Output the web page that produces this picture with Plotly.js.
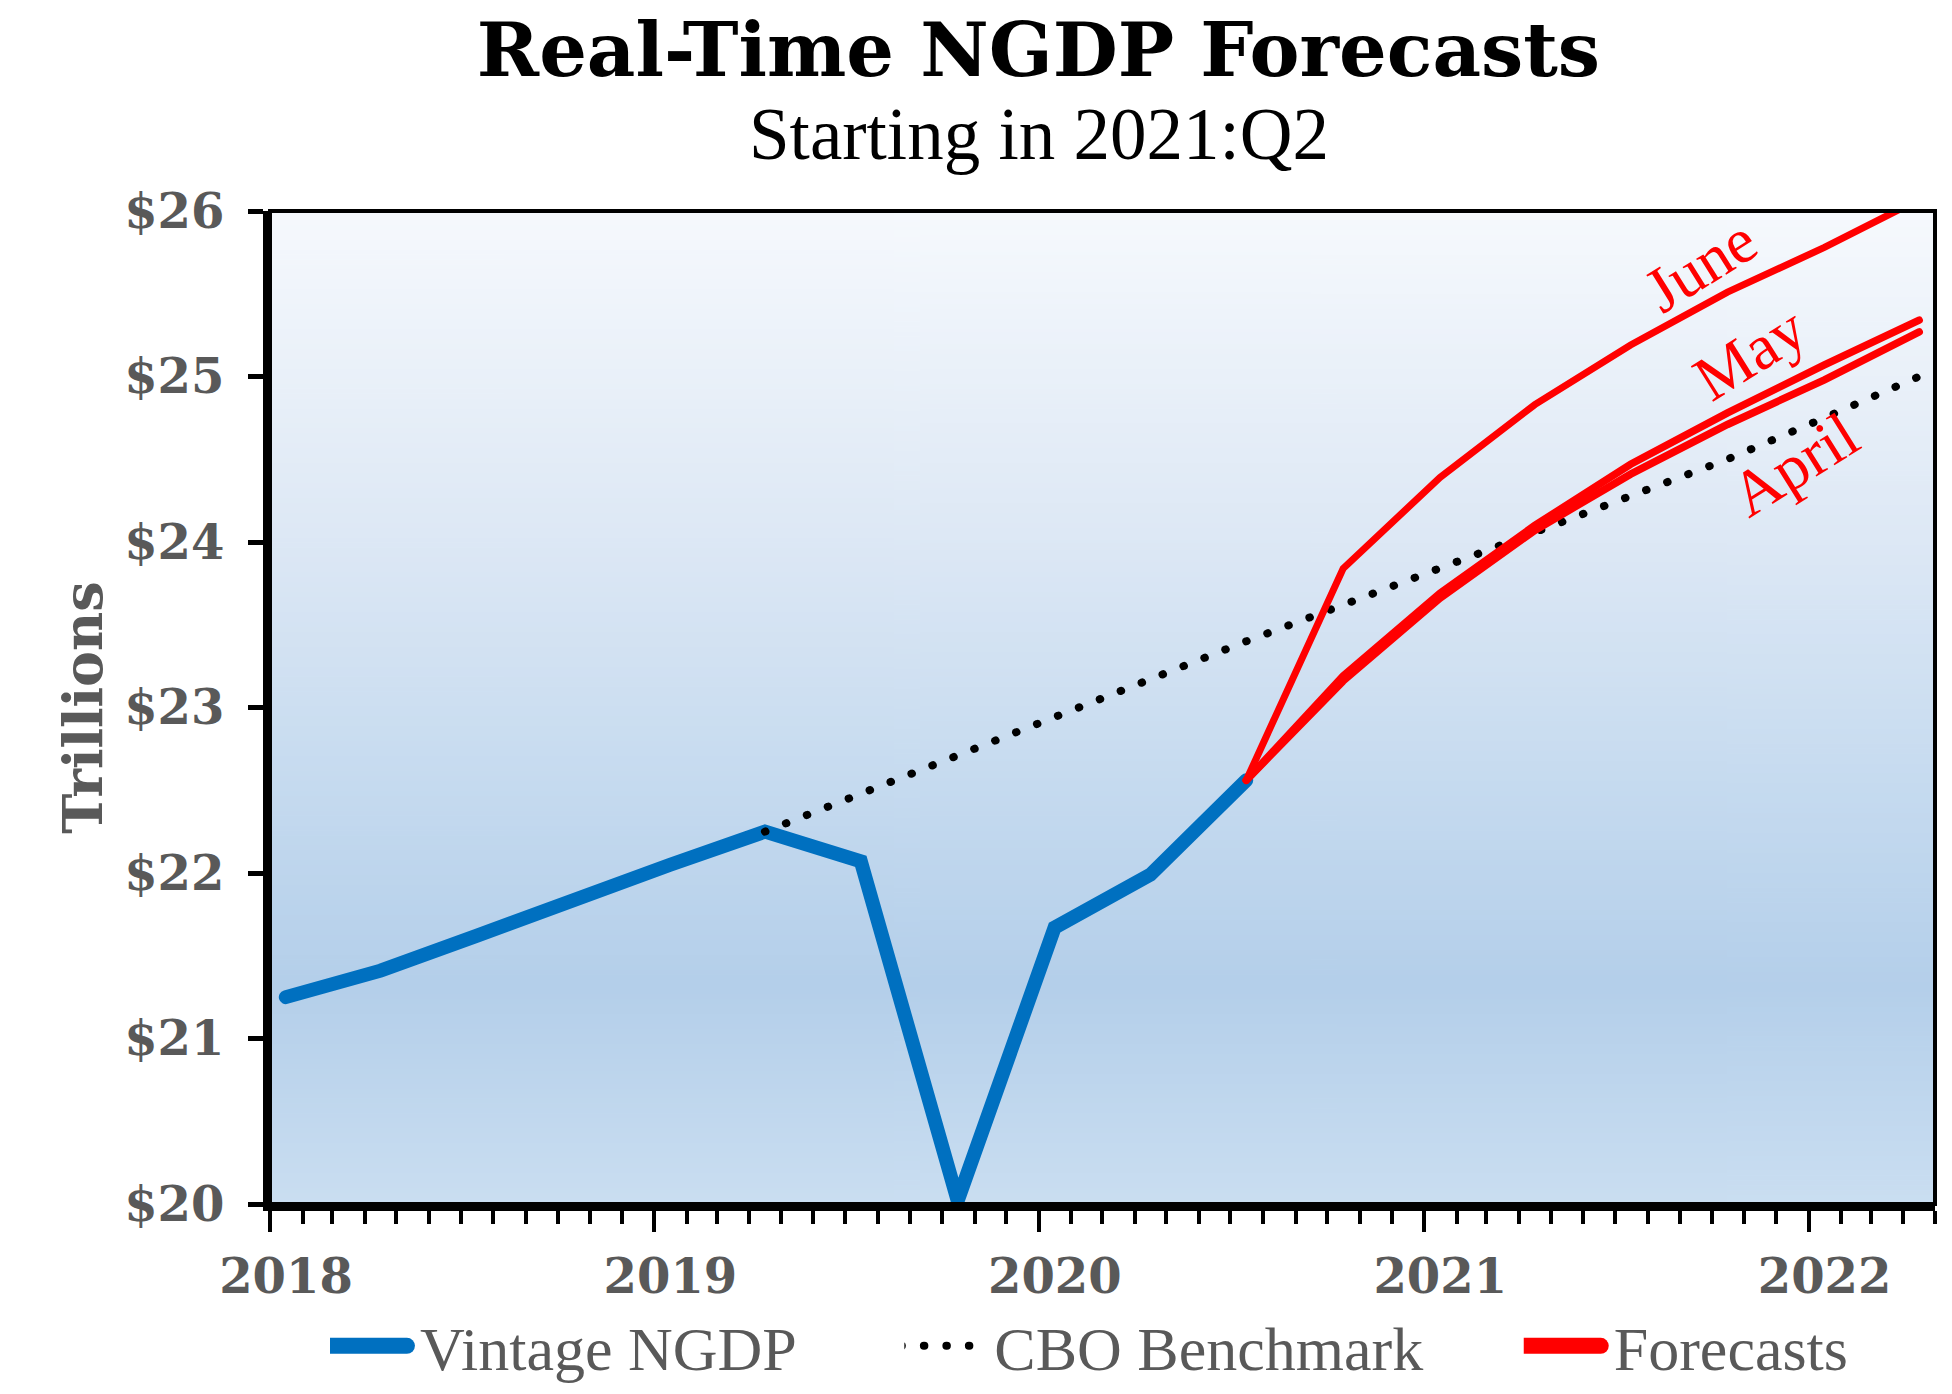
<!DOCTYPE html>
<html>
<head>
<meta charset="utf-8">
<script src="https://cdn.plot.ly/plotly-3.0.1.min.js"></script>
<style>
  html, body { margin:0; padding:0; background:#fff; }
  #chart { width:1952px; height:1394px; }
  #chart path.js-line { stroke-linecap:round; }
</style>
</head>
<body>
<div id="chart"></div>
<script>
/* ============================================================
   Real-Time NGDP Forecasts – vintage vs CBO vs monthly forecasts
   ============================================================ */

// quarterly observations, plotted mid-month on a monthly date axis
const quarters = [
  '2018-01-16','2018-04-16','2018-07-16','2018-10-16',
  '2019-01-16','2019-04-16','2019-07-16','2019-10-16',
  '2020-01-16','2020-04-16','2020-07-16','2020-10-16',
  '2021-01-16','2021-04-16','2021-07-16','2021-10-16',
  '2022-01-16','2022-04-16'
];

// $ trillions
const vintage = [21.25, 21.41, 21.62, 21.84, 22.05, 22.25, 22.07, 20.02, 21.67, 21.99, 22.56];
const cbo     = [22.25, 22.48, 22.71, 22.94, 23.17, 23.40, 23.62, 23.84, 24.06, 24.28, 24.50, 24.75, 25.00];
const fcJune  = [22.56, 23.84, 24.39, 24.83, 25.19, 25.51, 25.78, 26.07];
const fcMay   = [22.56, 23.19, 23.69, 24.10, 24.47, 24.78, 25.07, 25.34];
const fcApril = [22.56, 23.16, 23.66, 24.07, 24.41, 24.71, 24.98, 25.27];

const vintageX  = quarters.slice(0, vintage.length);
const cboX      = quarters.slice(5, 5 + cbo.length);
const forecastX = quarters.slice(10);

// forecast vintage labels (text, x date, y value)
const fcLabels = ['June', 'May', 'April'];
const fcLabelX = ['2021-09-20', '2021-11-06', '2021-12-19'];
const fcLabelY = [25.67, 25.14, 24.47];

const C = { blue:'#0070c0', red:'#ff0000', grey:'#595959', black:'#000000' };
const serifBold = { family:'DejaVu Serif', weight:'bold', color:C.grey };
const serif     = 'Liberation Serif';

// ── plot background gradient (Excel style fill) ──────────────
const cv = document.createElement('canvas');
cv.width = 4; cv.height = 400;
const ctx = cv.getContext('2d');
const grd = ctx.createLinearGradient(0, 0, 0, 400);
grd.addColorStop(0.00, '#f6f9fd');
grd.addColorStop(0.33, '#dde8f5');
grd.addColorStop(0.55, '#c8dcf0');
grd.addColorStop(0.78, '#b4cfea');
grd.addColorStop(1.00, '#cadef1');
ctx.fillStyle = grd;
ctx.fillRect(0, 0, 4, 400);
const bgImg = cv.toDataURL('image/png');

// ── traces ───────────────────────────────────────────────────
const traces = [
  { type:'scatter', mode:'lines', name:'Vintage NGDP', legend:'legend', x:vintageX, y:vintage,
    line:{color:C.blue, width:14} },
  { type:'scatter', mode:'lines', name:'CBO Benchmark', legend:'legend2', x:cboX, y:cbo,
    line:{color:C.black, width:8, dash:'0.5px,22px'} },
  { type:'scatter', mode:'lines', name:'Forecasts', legendgroup:'fc', showlegend:false,
    x:forecastX, y:fcJune, line:{color:C.red, width:7} },
  { type:'scatter', mode:'lines', name:'Forecasts', legendgroup:'fc', showlegend:false,
    x:forecastX, y:fcMay, line:{color:C.red, width:7.5} },
  { type:'scatter', mode:'lines', name:'Forecasts', legendgroup:'fc', showlegend:false,
    x:forecastX, y:fcApril, line:{color:C.red, width:7.5} },
  // legend swatch for the forecast group
  { type:'scatter', mode:'lines', name:'Forecasts', legendgroup:'fc', legend:'legend3',
    x:[null], y:[null], line:{color:C.red, width:14} },
];

const annotations = fcLabels.map((t, i) => ({
  text:t, x:fcLabelX[i], y:fcLabelY[i], xref:'x', yref:'y',
  showarrow:false, textangle:-32,
  font:{family:serif, size:64, color:C.red},
}));

annotations.push({
  text:'Starting in 2021:Q2', xref:'paper', yref:'paper',
  x:0.462, xanchor:'center', y:1.034, yanchor:'bottom', showarrow:false,
  font:{family:serif, size:73, color:C.black},
});

// one legend per entry so the entries sit where the original has them
const legendBase = (x) => ({
  orientation:'h', x, xanchor:'left', y:-0.143, yanchor:'middle',
  font:{family:serif, size:62, color:C.grey},
  itemwidth:80, bgcolor:'rgba(0,0,0,0)',
});

const layout = {
  width:1952, height:1394,
  margin:{l:270, r:17, t:211, b:190, autoexpand:false},
  paper_bgcolor:'#ffffff',
  plot_bgcolor:'rgba(0,0,0,0)',
  showlegend:true,
  title:{
    text:'Real-Time NGDP Forecasts',
    font:{family:'DejaVu Serif', weight:'bold', size:75, color:C.black},
    x:0.532, xanchor:'center', y:0.983, yanchor:'top',
  },
  xaxis:{
    type:'date', range:['2018-01-01','2022-05-01'],
    tick0:'2018-01-01', dtick:'M12', tickformat:'%Y',
    ticks:'outside', ticklen:21, tickwidth:4, tickcolor:C.black,
    minor:{ tick0:'2018-01-01', dtick:'M1', ticks:'outside', ticklen:13, tickwidth:4, tickcolor:C.black, showgrid:false },
    showline:true, linewidth:7, linecolor:C.black,
    showgrid:false, zeroline:false,
    ticklabelshift:16, ticklabelstandoff:3,
    tickfont:{...serifBold, size:48},
  },
  yaxis:{
    range:[20, 26], dtick:1, tickprefix:'$',
    ticks:'outside', ticklen:15, tickwidth:5, tickcolor:C.black,
    showline:true, linewidth:7, linecolor:C.black,
    showgrid:false, zeroline:false,
    ticklabelstandoff:14,
    tickfont:{...serifBold, size:48},
    title:{ text:'Trillions', font:{...serifBold, size:54}, standoff:7 },
  },
  legend:  legendBase(0.036),
  legend2: legendBase(0.381),
  legend3: legendBase(0.753),
  images:[{
    source:bgImg, xref:'paper', yref:'paper', x:0, y:1, sizex:1, sizey:1,
    sizing:'stretch', xanchor:'left', yanchor:'top', layer:'below',
  }],
  shapes:[{
    type:'rect', xref:'paper', yref:'paper', x0:0, x1:1, y0:0, y1:1,
    line:{color:C.black, width:4}, layer:'above',
  }],
  annotations,
};

Plotly.newPlot('chart', traces, layout, {displayModeBar:false, staticPlot:true}).then(gd => {
  // legend swatches: Plotly caps their stroke, the original draws them fat
  gd.querySelectorAll('.infolayer path.js-line').forEach(p => {
    const dotted = (p.style.strokeDasharray || '').length > 0 && p.style.strokeDasharray !== 'none';
    p.style.strokeWidth = dotted ? '8px' : '16px';
    p.style.strokeLinecap = 'round';
    p.setAttribute('transform', 'translate(-8,0)');
  });
});
</script>
</body>
</html>
